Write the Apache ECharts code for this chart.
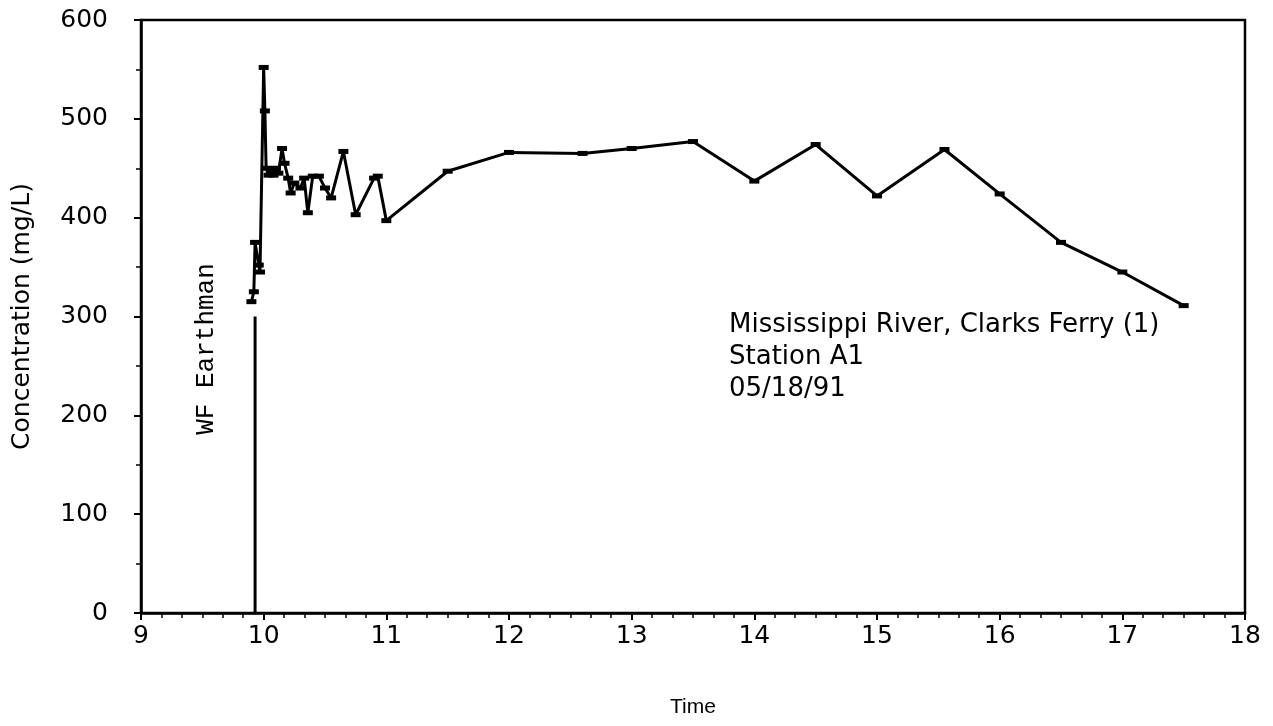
<!DOCTYPE html>
<html>
<head>
<meta charset="utf-8">
<script src="https://cdn.jsdelivr.net/npm/echarts@6/dist/echarts.min.js"></script>
<style>
  html, body { margin: 0; padding: 0; background: #fff; }
  #chart { width: 1273px; height: 726px; }
</style>
</head>
<body>
<div id="chart"></div>
<script>
// time (hours) and concentration (mg/L)
const times = [9.90, 9.92, 9.93, 9.96, 9.97, 10.00, 10.01, 10.02, 10.04, 10.06, 10.08, 10.10, 10.12,
  10.15, 10.17, 10.20, 10.22, 10.25, 10.30, 10.33, 10.36, 10.40, 10.45, 10.50, 10.55, 10.65,
  10.75, 10.90, 10.93, 11.00, 11.50, 12.00, 12.60, 13.00, 13.50, 14.00, 14.50, 15.00, 15.55,
  16.00, 16.50, 17.00, 17.50]
const conc = [315, 325, 375, 352, 345, 552, 508, 450, 443, 447, 443, 450, 445,
  470, 455, 440, 425, 435, 430, 440, 405, 442, 442, 430, 420, 467,
  403, 440, 442, 397, 447, 466, 465, 470, 477, 437, 474, 422, 469,
  424, 375, 345, 311]

// vertical marker line for the sampler
const markerTime = [9.93, 9.93]
const markerConc = [0, 300]

const noteLines = ['Mississippi River, Clarks Ferry (1)', 'Station A1', '05/18/91']

const font = '"DejaVu Sans", sans-serif'
const chart = echarts.init(document.getElementById('chart'))

chart.setOption({
  animation: false,
  backgroundColor: '#fff',
  grid: {
    left: 141, right: 28, top: 20, bottom: 113,
    show: true, borderColor: '#000', borderWidth: 2.5
  },
  xAxis: {
    type: 'value', min: 9, max: 18, interval: 1,
    name: 'Time', nameLocation: 'middle', nameGap: 84,
    nameTextStyle: { fontFamily: 'Liberation Sans, Arial, sans-serif', fontSize: 21, color: '#000' },
    axisLine: { lineStyle: { color: '#000', width: 2.5 } },
    axisTick: { length: 7, lineStyle: { color: '#000', width: 2 } },
    minorTick: { show: true, splitNumber: 6, length: 5, lineStyle: { color: '#000', width: 1.5 } },
    splitLine: { show: false },
    axisLabel: { fontFamily: font, fontSize: 25, color: '#000', margin: 11 }
  },
  yAxis: {
    type: 'value', min: 0, max: 600, interval: 100,
    name: 'Concentration (mg/L)', nameLocation: 'middle', nameGap: 106,
    nameTextStyle: { fontFamily: font, fontSize: 25, color: '#000' },
    axisLine: { lineStyle: { color: '#000', width: 2.5 } },
    axisTick: { length: 7, lineStyle: { color: '#000', width: 2 } },
    minorTick: { show: true, splitNumber: 2, length: 5, lineStyle: { color: '#000', width: 1.5 } },
    splitLine: { show: false },
    axisLabel: { fontFamily: font, fontSize: 25, color: '#000', margin: 33 }
  },
  series: [
    {
      type: 'line',
      data: times.map((t, i) => [t, conc[i]]),
      symbol: 'rect', symbolSize: [10, 5],
      itemStyle: { color: '#000' },
      lineStyle: { color: '#000', width: 3 }
    },
    {
      type: 'line',
      data: markerTime.map((t, i) => [t, markerConc[i]]),
      symbol: 'none',
      lineStyle: { color: '#000', width: 3 }
    }
  ],
  graphic: [
    {
      type: 'text', x: 206, y: 349, rotation: Math.PI / 2,
      style: {
        text: 'WF Earthman', font: '26px "Liberation Mono", "DejaVu Sans Mono", monospace',
        fill: '#000', align: 'center', verticalAlign: 'middle'
      }
    },
    {
      type: 'text', left: 729, top: 309,
      style: { text: noteLines.join('\n'), font: '26px ' + font, fill: '#000', lineHeight: 32 }
    }
  ]
})
</script>
</body>
</html>
